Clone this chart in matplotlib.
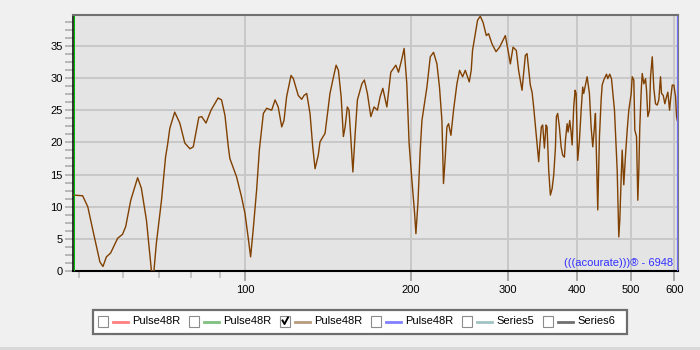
import matplotlib
matplotlib.use("Agg")
import matplotlib.pyplot as plt
from matplotlib.patches import Rectangle
from matplotlib.ticker import FixedLocator, NullFormatter
import numpy as np

plt.rcParams['font.family'] = ['Liberation Sans', 'DejaVu Sans']

# frequency (Hz) and level
freq = [48.9, 50.8, 51.9, 53.0, 54.6, 55.3, 56.1, 57.1, 58.8, 60.0, 60.8, 62.1,
        63.9, 64.9, 66.3, 67.4, 67.7, 68.4, 69.1, 70.6, 71.8, 72.4, 73.1, 74.6,
        76.2, 77.8, 79.5, 80.6, 82.5, 83.5, 85.0, 86.8, 89.4, 90.7, 92.0, 93.3,
        93.9, 96.6, 98.6, 100.0, 101.4, 102.4, 103.5, 105.0, 106.2, 106.5, 108.0,
        109.5, 111.8, 113.4, 114.9, 116.6, 117.7, 119.0, 121.2, 122.4, 124.9,
        126.7, 128.0, 129.4, 131.2, 132.7, 134.0, 135.8, 136.8, 139.7, 142.6,
        144.3, 146.3, 147.7, 149.4, 150.8, 151.9, 153.3, 154.4, 155.5, 156.9,
        158.4, 159.9, 162.9, 164.6, 166.7, 169.1, 171.4, 173.8, 175.8, 177.8,
        180.8, 183.8, 187.7, 189.8, 192.5, 194.3, 196.5, 198.4, 200.7, 202.9,
        204.1, 205.8, 207.8, 209.3, 213.7, 216.7, 219.7, 222.8, 225.2, 227.5,
        229.0, 230.7, 232.3, 233.9, 236.2, 238.8, 242.2, 244.9, 248.0, 250.8,
        255.0, 257.1, 258.5, 261.5, 264.0, 267.0, 270.0, 273.8, 276.4, 280.4,
        285.1, 289.4, 296.4, 300.5, 302.7, 306.1, 310.3, 313.3, 317.8, 322.2,
        324.5, 329.0, 331.4, 333.6, 335.5, 338.4, 340.7, 342.1, 344.5, 346.4,
        348.9, 351.3, 352.8, 355.2, 357.7, 360.3, 362.7, 365.3, 366.8, 368.8,
        371.4, 374.1, 376.6, 379.3, 380.9, 383.6, 385.2, 387.8, 390.0, 391.7,
        394.3, 396.6, 398.3, 400.9, 403.8, 406.7, 409.4, 411.1, 414.1, 417.0,
        421.0, 424.0, 426.9, 429.9, 431.7, 435.9, 439.0, 442.1, 444.0, 447.0,
        452.1, 454.5, 458.3, 461.6, 464.9, 467.4, 470.8, 472.7, 475.9, 477.9,
        480.7, 482.7, 485.9, 489.4, 492.9, 496.2, 501.2, 503.3, 506.7, 508.8,
        512.4, 515.2, 517.4, 519.5, 522.6, 524.8, 528.3, 532.1, 534.3, 537.2,
        541.0, 543.3, 547.2, 550.8, 554.7, 558.7, 562.4, 566.4, 568.8, 572.9,
        576.7, 580.8, 584.0, 588.2, 590.6, 594.8, 598.8, 603.1, 605.6, 607.4]
level = [11.8, 11.7, 10.0, 6.4, 1.4, 0.7, 2.2, 2.8, 5.1, 5.7, 6.9, 11.0,
         14.5, 12.9, 7.9, 1.7, 0.0, 0.0, 4.3, 11.0, 17.7, 19.6, 22.2, 24.7,
         23.0, 19.9, 19.0, 19.3, 23.9, 24.0, 23.0, 25.0, 26.9, 26.6, 24.2, 19.3,
         17.5, 14.6, 11.5, 9.0, 5.1, 2.2, 6.4, 12.6, 18.8, 19.8, 24.5,
         25.3, 25.0, 26.6, 25.5, 22.4, 23.4, 27.1, 30.4, 29.9, 27.3,
         26.7, 27.3, 27.6, 24.5, 19.3, 15.9, 18.0, 20.1, 21.4, 27.6,
         29.7, 32.0, 31.2, 27.1, 20.9, 22.4, 25.5, 25.0, 20.9, 15.4,
         21.4, 26.6, 29.1, 29.7, 27.6, 24.0, 25.5, 25.0, 27.1, 28.4,
         25.5, 30.9, 32.0, 30.9, 33.0, 34.6, 29.1, 19.8, 14.1, 9.2,
         5.8, 10.5, 18.8, 23.4, 28.6, 33.3, 34.0, 32.2, 28.6, 23.4,
         13.6, 17.7, 22.4, 22.9, 21.1, 25.0, 29.1, 31.2, 30.2, 31.2,
         29.4, 31.2, 34.3, 36.9, 39.0, 39.6, 38.7, 36.6, 36.9, 35.3,
         34.1, 34.8, 36.6, 33.8, 32.2, 34.8, 34.3, 31.2, 28.1, 33.5,
         33.8, 28.9, 27.8, 25.5, 23.2, 19.6, 17.0, 19.3, 22.4, 22.7,
         19.1, 22.7, 22.4, 15.7, 11.8, 12.8, 14.9, 19.1, 24.0, 24.5,
         22.4, 19.3, 18.0, 17.7, 20.3, 22.9, 21.6, 23.4, 21.6, 19.6,
         25.5, 28.1, 27.6, 17.2, 20.3, 25.0, 28.6, 27.6, 28.9, 30.2,
         27.6, 22.4, 19.3, 22.4, 24.5, 9.5, 20.9, 26.6, 28.9, 29.7,
         30.6, 29.9, 30.6, 29.9, 27.1, 25.0, 19.1, 15.7, 5.3, 7.9,
         14.6, 18.8, 13.4, 18.0, 21.9, 25.0, 27.6, 30.2, 29.7, 21.9,
         20.9, 11.0, 15.7, 22.4, 28.1, 30.7, 29.1, 29.9, 28.1, 24.0,
         25.0, 30.2, 33.3, 28.4, 26.0, 25.8, 26.6, 30.2, 27.6, 27.3,
         26.0, 27.1, 27.8, 25.0, 26.6, 28.9, 28.9, 27.1, 24.0, 23.4]

x_major = [100, 200, 300, 400, 500, 600]
x_minor = [50, 60, 70, 80, 90]
y_major = [0, 5, 10, 15, 20, 25, 30, 35]

series_names = ["Pulse48R", "Pulse48R", "Pulse48R", "Pulse48R", "Series5", "Series6"]
series_checked = [False, False, True, False, False, False]
series_colors = ["#ff8080", "#80c080", "#b89a7c", "#8080ff", "#a0c4c4", "#707070"]
box_left = [98, 189, 280, 371, 462, 543]

fig = plt.figure(figsize=(7, 3.5), dpi=100, facecolor="#f0f0f0")
ax = fig.add_axes([73/700, 79/350, 604.5/700, 256/350])
ax.set_facecolor("#e4e4e4")

ax.plot(freq, level, color="#804000", lw=1.0, zorder=3)

ax.set_xscale("log")
ax.set_xlim(48.8, 608)
ax.set_ylim(0, 39.8)
ax.xaxis.set_major_locator(FixedLocator(x_major))
ax.xaxis.set_minor_locator(FixedLocator(x_minor))
ax.set_xticklabels([str(v) for v in x_major])
ax.xaxis.set_minor_formatter(NullFormatter())
ax.set_yticks(y_major)
ax.yaxis.set_minor_locator(FixedLocator(np.arange(0, 39.8, 1.25)))

ax.grid(True, which="major", color="#c8c8c8", lw=1.4, zorder=1)
ax.set_axisbelow(True)

ax.tick_params(axis="y", which="both", direction="out", length=5.8, width=1.4,
               color="#b8b8b8", pad=1.5, labelsize=8)
ax.tick_params(axis="x", which="major", direction="out", length=7, width=1.4,
               color="#a8a8a8", pad=3, labelsize=8)
ax.tick_params(axis="x", which="minor", direction="out", length=4.8, width=1.4,
               color="#c4c4c4")

ax.spines["left"].set_color("black")
ax.spines["left"].set_linewidth(1.1)
ax.spines["bottom"].set_color("black")
ax.spines["bottom"].set_linewidth(1.5)
ax.spines["top"].set_color("#707070")
ax.spines["top"].set_linewidth(1.5)
ax.spines["right"].set_color("#7a7a7a")
ax.spines["right"].set_linewidth(1.5)

ax.text(0.992, 0.012, "(((acourate)))\u00ae - 6948", transform=ax.transAxes,
        ha="right", va="bottom", fontsize=8, color="#3030ff", zorder=4)

# overlay in pixel coordinates for frame accents and the legend
ov = fig.add_axes([0, 0, 1, 1], zorder=5)
ov.set_xlim(0, 700)
ov.set_ylim(350, 0)
ov.axis("off")
ov.patch.set_alpha(0)

ov.plot([74.0, 74.0], [15.5, 270], color="#00c000", lw=0.75)
ov.plot([676.5, 676.5], [16, 270], color="#7070ff", lw=0.8)

ov.add_patch(Rectangle((0, 346.5), 700, 3.5, facecolor="#d8d8d8", edgecolor="none"))

ov.add_patch(Rectangle((93, 309.5), 534, 24.5, facecolor="white",
                       edgecolor="#6e6e6e", lw=1.6))
for name, checked, col, bx in zip(series_names, series_checked, series_colors, box_left):
    ov.add_patch(Rectangle((bx, 316), 10, 10.5, facecolor="white",
                           edgecolor="#8c8c8c", lw=0.8))
    if checked:
        ov.plot([bx + 2.5, bx + 4.5, bx + 8], [320.5, 324, 317.5], color="black", lw=1.4)
    ov.plot([bx + 15, bx + 29.5], [321.5, 321.5], color=col, lw=2)
    ov.text(bx + 34.5, 321.5, name, fontsize=8, va="center", ha="left", color="black")

fig.savefig("out.png", dpi=100, facecolor=fig.get_facecolor())
